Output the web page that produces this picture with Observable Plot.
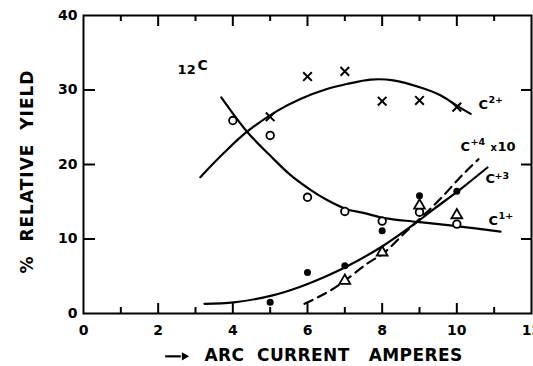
<!DOCTYPE html>
<html><head><meta charset="utf-8">
<script src="https://cdn.jsdelivr.net/npm/d3@7"></script>
<script src="https://cdn.jsdelivr.net/npm/@observablehq/plot@0.6"></script>
<style>
html,body{margin:0;padding:0;background:#fff;}
</style>
</head><body><div id="chart"></div>
<script>
// ---- tick labels ----
const xTickValues = [0, 2, 4, 6, 8, 10, 12];
const yTickValues = [0, 10, 20, 30, 40];
const majorX = [2, 4, 6, 8, 10];
const minorX = [1, 3, 5, 7, 9, 11];
const innerY = [10, 20, 30];

// ---- measured points ----
const c2X = [5, 6, 7, 8, 9, 10];
const c2Y = [26.4, 31.8, 32.5, 28.5, 28.6, 27.7];      // C2+  (x marks)
const c1X = [4, 5, 6, 7, 8, 9, 10];
const c1Y = [25.9, 23.9, 15.6, 13.7, 12.4, 13.6, 12.0]; // C1+  (open circles)
const c3X = [5, 6, 7, 8, 9, 10];
const c3Y = [1.5, 5.5, 6.4, 11.1, 15.8, 16.4];          // C+3  (filled dots)
const c4X = [7, 8, 9, 10];
const c4Y = [4.4, 8.2, 14.5, 13.2];                     // C+4 x10 (triangles)

// ---- fitted curves ----
const c2CurveX = [3.13, 3.75, 4.38, 5.19, 5.81, 6.5, 7.05, 7.69, 8.3, 9.05, 9.56, 10.03, 10.37];
const c2CurveY = [18.3, 21.5, 24.4, 27.2, 28.8, 30.1, 30.8, 31.4, 31.3, 30.3, 29.3, 27.8, 26.8];
const c1CurveX = [3.69, 4.38, 5.0, 5.54, 6.05, 6.5, 7.05, 7.5, 8.06, 8.94, 10.03, 11.17];
const c1CurveY = [29.0, 24.4, 21.2, 18.6, 16.7, 15.3, 14.0, 13.5, 12.8, 12.3, 11.7, 11.0];
const c3CurveX = [3.24, 4.03, 5.04, 5.81, 6.5, 7.05, 8.03, 8.94, 9.38, 10.1, 10.82];
const c3CurveY = [1.3, 1.5, 2.4, 3.6, 5.0, 6.3, 9.1, 12.3, 14.0, 16.7, 19.6];
const c4CurveX = [5.92, 6.62, 7.05, 7.6, 8.06, 8.58, 9.05, 9.56, 10.15, 10.58];
const c4CurveY = [1.3, 3.1, 4.6, 6.7, 8.2, 10.7, 12.9, 15.4, 18.6, 20.7];

// ---- curve labels ----
const labelMain = ["C", "C", "C", "C"];
const labelSup = ["2+", "+4", "+3", "1+"];
const labelX = [10.58, 10.10, 10.77, 10.85];
const labelY = [28.0, 22.35, 18.05, 12.5];
const isotopeText = ["12", "C"];
const isotopeX = 2.52, isotopeY = 32.75;

const xTitle = "ARC\u00a0\u00a0CURRENT\u00a0\u00a0\u00a0AMPERES";
const yTitle = "%\u00a0\u00a0RELATIVE\u00a0\u00a0YIELD";
// arrow in front of the x title (data units of the axes)
const arrowX1 = [2.2], arrowX2 = 2.62, arrowHeadX = [2.7], arrowY = -5.75;

const zip = (xs, ys) => xs.map((x, i) => ({x, y: ys[i]}));

const W = 533, H = 366, mL = 83, mR = 2, mT = 15, mB = 53;
const innerW = W - mL - mR, innerH = H - mT - mB;
const font = "DejaVu Sans";
const sw = 2.2;

const supDx = [10, 10, 9, 10];
const supDy = [-4.5, -5.5, -3.5, -4];

const labelMarks = labelMain.flatMap((m, i) => [
  Plot.text([m], {x: () => labelX[i], y: () => labelY[i], text: d => d, textAnchor: "start", lineAnchor: "middle", fontSize: 13, fontWeight: "bold"}),
  Plot.text([labelSup[i]], {x: () => labelX[i], y: () => labelY[i], text: d => d, dx: supDx[i], dy: supDy[i], textAnchor: "start", lineAnchor: "middle", fontSize: 9.5, fontWeight: "bold"})
]);

const chart = Plot.plot({
  width: W, height: H,
  marginLeft: mL, marginRight: mR, marginTop: mT, marginBottom: mB,
  x: {domain: [0, 12], axis: null},
  y: {domain: [0, 40], axis: null},
  style: {fontFamily: font, background: "#fff", color: "#000"},
  marks: [
    Plot.frame({stroke: "#000", strokeWidth: 2}),
    Plot.ruleX(majorX, {x: d => d, insetTop: innerH - 10, strokeWidth: 2}),
    Plot.ruleX(minorX, {x: d => d, insetTop: innerH - 6, strokeWidth: 2}),
    Plot.ruleX(majorX, {x: d => d, insetBottom: innerH - 11, strokeWidth: 2}),
    Plot.ruleX(minorX, {x: d => d, insetBottom: innerH - 6, strokeWidth: 2}),
    Plot.ruleY(innerY, {y: d => d, insetRight: innerW - 12, strokeWidth: 2}),
    Plot.ruleY(innerY, {y: d => d, insetLeft: innerW - 10, strokeWidth: 2}),
    Plot.axisX(xTickValues, {anchor: "bottom", tickSize: 0, tickPadding: 12, fontSize: 14, fontWeight: "bold", label: null, tickFormat: d => String(d)}),
    Plot.axisY(yTickValues, {anchor: "left", tickSize: 0, tickPadding: 6, fontSize: 14, fontWeight: "bold", label: null, tickFormat: d => String(d)}),
    // curves
    Plot.line(zip(c2CurveX, c2CurveY), {x: "x", y: "y", curve: "catmull-rom", strokeWidth: sw}),
    Plot.line(zip(c1CurveX, c1CurveY), {x: "x", y: "y", curve: "catmull-rom", strokeWidth: sw}),
    Plot.line(zip(c3CurveX, c3CurveY), {x: "x", y: "y", curve: "catmull-rom", strokeWidth: sw}),
    Plot.line(zip(c4CurveX, c4CurveY), {x: "x", y: "y", curve: "catmull-rom", strokeWidth: sw, strokeDasharray: "9,6"}),
    // points
    Plot.dot(zip(c2X, c2Y), {x: "x", y: "y", symbol: "times", r: 4, stroke: "#000", strokeWidth: 2}),
    Plot.dot(zip(c1X, c1Y), {x: "x", y: "y", symbol: "circle", r: 3.8, stroke: "#000", fill: "#fff", strokeWidth: 1.8}),
    Plot.dot(zip(c3X, c3Y), {x: "x", y: "y", symbol: "circle", r: 3.5, fill: "#000", stroke: "none"}),
    Plot.dot(zip(c4X, c4Y), {x: "x", y: "y", symbol: "triangle", r: 4, stroke: "#000", fill: "#fff", strokeWidth: 1.8}),
    // labels
    ...labelMarks,
    Plot.text(["x"], {x: () => labelX[1], y: () => labelY[1], text: d => d, dx: 30, dy: 0.5, textAnchor: "start", lineAnchor: "middle", fontSize: 10, fontWeight: "bold"}),
    Plot.text(["10"], {x: () => labelX[1], y: () => labelY[1], text: d => d, dx: 37, textAnchor: "start", lineAnchor: "middle", fontSize: 13, fontWeight: "bold"}),
    Plot.text([isotopeText[0]], {x: () => isotopeX, y: () => isotopeY, text: d => d, textAnchor: "start", lineAnchor: "middle", fontSize: 13, fontWeight: "bold"}),
    Plot.text([isotopeText[1]], {x: () => isotopeX, y: () => isotopeY, text: d => d, dx: 20, dy: -3.5, textAnchor: "start", lineAnchor: "middle", fontSize: 14, fontWeight: "bold"}),
    // axis titles
    Plot.text([xTitle], {frameAnchor: "bottom", text: d => d, textAnchor: "middle", dx: 26, dy: 42, lineAnchor: "middle", fontSize: 17, fontWeight: "bold"}),
    Plot.ruleY([arrowY], {x1: () => arrowX1[0], x2: () => arrowX2, y: d => d, strokeWidth: 2.2, clip: false}),
    Plot.dot(arrowHeadX, {x: d => d, y: () => arrowY, symbol: "triangle2", rotate: 90, r: 4, fill: "#000", stroke: "none", clip: false}),
    Plot.text([yTitle], {frameAnchor: "left", text: d => d, textAnchor: "middle", dx: -56, dy: 7, rotate: -90, lineAnchor: "middle", fontSize: 17, fontWeight: "bold"})
  ]
});

d3.select(chart).selectAll("text")
  .filter(function() { return this.textContent.includes("RELATIVE"); })
  .style("letter-spacing", "1px");
d3.select(chart).selectAll("text")
  .filter(function() { return this.textContent.includes("AMPERES"); })
  .style("letter-spacing", "0.4px");

document.getElementById("chart").appendChild(chart);
</script>
</body></html>
